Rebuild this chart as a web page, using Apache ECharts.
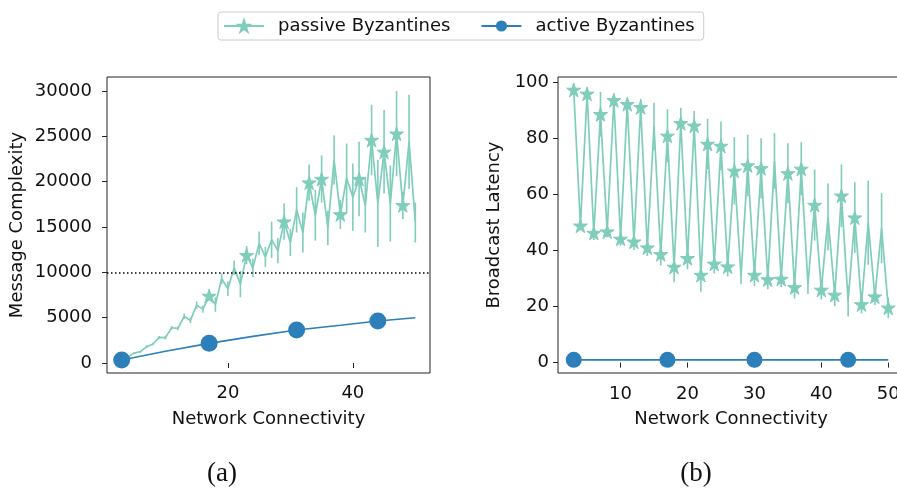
<!DOCTYPE html>
<html>
<head>
<meta charset="utf-8">
<script src="https://cdn.jsdelivr.net/npm/echarts@6/dist/echarts.min.js"></script>
<style>html,body{margin:0;padding:0;background:#fff;overflow:hidden;}#c{width:912px;height:490px;}</style>
</head>
<body>
<div id="c"></div>
<script>
// ---------- data ----------
const connectivity = [3,4,5,6,7,8,9,10,11,12,13,14,15,16,17,18,19,20,21,22,23,24,25,26,27,28,29,30,31,32,33,34,35,36,37,38,39,40,41,42,43,44,45,46,47,48,49,50];

// (a) Message complexity, passive Byzantines (mean and error)
const passiveMsg = [330,700,1100,1250,1800,2100,2830,2800,3890,3830,5150,4700,6390,5950,7400,6450,9300,8200,10500,8700,11900,10500,13200,11700,13600,12400,15600,13300,16900,14400,19900,16300,20300,14900,22400,16400,20400,18300,20300,17400,24600,17600,23300,17600,25300,17400,24400,15500];
const passiveMsgErr = [50,100,100,100,150,150,150,200,200,200,300,300,400,400,500,800,600,800,800,1450,1000,1000,1300,1100,2000,1400,2000,1500,2500,2200,2000,2800,2600,1900,2700,1600,3800,3700,4100,3000,3900,4800,4600,4200,4700,1500,5200,2200];
const passiveMsgMarkers = [3,17,23,29,33,35,38,41,43,45,47,48];

// (a) Message complexity, active Byzantines
const activeMsgX = [3,10,17,24,31,38,44,50];
const activeMsg = [330,1300,2170,2940,3640,4160,4630,5000];
const activeMsgMarkers = [3,17,31,44];

const msgThreshold = 10000;

// (b) Broadcast latency, passive Byzantines (mean and error)
const passiveLat = [97.4,48.9,96.0,46.3,88.7,46.8,93.7,44.2,92.3,43.2,91.2,41.1,84.3,38.7,81.0,34.2,85.5,37.3,84.6,31.3,78.1,35.3,77.4,34.3,68.5,31.0,70.4,31.3,69.4,29.7,72.0,29.9,67.6,26.9,69.2,28.0,56.3,26.0,52.0,24.2,59.6,22.0,51.8,20.8,50.0,23.6,48.0,19.6];
const passiveLatErr = [1,1.5,1.5,2.5,8,2,1.5,2.5,2,3,3,3,8.5,4,9.5,5.5,5.5,4,5.3,6,9,3.5,8.7,3.5,12,3,11,4,10.7,3.5,10,3,10.7,4,9.5,3.5,12.7,3.5,12,4,11.2,5.5,12.6,3.2,15,3,12.5,3.7];
const passiveLatMarkers = [3,4,5,6,7,8,9,10,11,12,13,14,16,17,18,19,20,21,22,23,24,25,26,27,29,30,31,32,34,35,36,37,39,40,42,43,45,46,48,50];

// (b) Broadcast latency, active Byzantines
const activeLatX = [3,17,30,44,50];
const activeLat = [1,1,1,1,1];
const activeLatMarkers = [3,17,30,44];

// ticks
const msgYTicks = [0,5000,10000,15000,20000,25000,30000];
const msgXTicks = [20,40];
const latYTicks = [0,20,40,60,80,100];
const latXTicks = [10,20,30,40,50];

// ---------- styles ----------
const cPassive = '#7fcdbb';
const cActive = '#2c7fb8';
const star = 'path://M0,-1 L0.2245,-0.309 L0.951,-0.309 L0.363,0.118 L0.588,0.809 L0,0.382 L-0.588,0.809 L-0.363,0.118 L-0.951,-0.309 L-0.2245,-0.309 Z';
const font = 'DejaVu Sans';
const fs = 18;

function withMarkers(xs, ys, marks) {
  return xs.map((x, i) => {
    const item = { value: [x, ys[i]] };
    if (marks.indexOf(x) < 0) item.symbol = 'none';
    return item;
  });
}
function errData(xs, ys, es) {
  return xs.map((x, i) => [x, ys[i] - es[i], ys[i] + es[i]]);
}
function errRender(params, api) {
  const p1 = api.coord([api.value(0), api.value(1)]);
  const p2 = api.coord([api.value(0), api.value(2)]);
  return { type: 'line', shape: { x1: p1[0], y1: p1[1], x2: p2[0], y2: p2[1] },
           style: { stroke: cPassive, lineWidth: 1.6 } };
}
function xAxis(idx, ticks, margin) {
  return {
    type: 'value', gridIndex: idx, min: 0.65, max: 52.35,
    name: 'Network Connectivity', nameLocation: 'middle', nameGap: 37,
    nameTextStyle: { fontFamily: font, fontSize: fs, color: '#111' },
    axisLine: { show: false },
    axisTick: { show: true, length: 5, lineStyle: { color: '#222' }, customValues: ticks },
    axisLabel: { fontFamily: font, fontSize: fs, color: '#111', margin: margin, customValues: ticks, formatter: v => String(v) },
    splitLine: { show: false }
  };
}
function yAxis(idx, min, max, ticks, name, gap, margin) {
  return {
    type: 'value', gridIndex: idx, min: min, max: max,
    name: name, nameLocation: 'middle', nameGap: gap,
    nameTextStyle: { fontFamily: font, fontSize: fs, color: '#111' },
    axisLine: { show: false },
    axisTick: { show: true, length: 5, lineStyle: { color: '#222' }, customValues: ticks },
    axisLabel: { fontFamily: font, fontSize: fs, color: '#111', margin: margin, customValues: ticks, formatter: v => String(v) },
    splitLine: { show: false }
  };
}
const starStyle = { color: cPassive, borderColor: cPassive, borderWidth: 1 };

const chart = echarts.init(document.getElementById('c'), null, { renderer: 'canvas' });
chart.setOption({
  animation: false,
  backgroundColor: '#fff',
  legend: {
    left: 218, top: 12,
    data: ['passive Byzantines', 'active Byzantines'],
    itemWidth: 40, itemHeight: 14, itemGap: 30,
    padding: [5, 9, 5, 5],
    borderColor: '#cccccc', borderWidth: 1, borderRadius: 3,
    textStyle: { fontFamily: font, fontSize: fs, color: '#111', padding: [0, 0, 0, 9] }
  },
  grid: [
    { left: 107, top: 77, width: 323, height: 296, show: true, borderColor: '#222', borderWidth: 1, backgroundColor: 'transparent' },
    { left: 558, top: 77, width: 346, height: 296, show: true, borderColor: '#222', borderWidth: 1, backgroundColor: 'transparent' }
  ],
  xAxis: [xAxis(0, msgXTicks, 11), xAxis(1, latXTicks, 12)],
  yAxis: [
    yAxis(0, -1100, 31550, msgYTicks, 'Message Complexity', 81, 15),
    yAxis(1, -3.7, 102, latYTicks, 'Broadcast Latency', 55, 9)
  ],
  graphic: [
    { type: 'text', style: { text: '(a)', x: 222, y: 474, textAlign: 'center', textVerticalAlign: 'middle', font: '27px "Liberation Serif"', fill: '#111' } },
    { type: 'text', style: { text: '(b)', x: 696, y: 474, textAlign: 'center', textVerticalAlign: 'middle', font: '27px "Liberation Serif"', fill: '#111' } }
  ],
  series: [
    { type: 'custom', name: 'errA', xAxisIndex: 0, yAxisIndex: 0, renderItem: errRender,
      encode: { x: 0, y: [1, 2] }, data: errData(connectivity, passiveMsg, passiveMsgErr), z: 2 },
    { type: 'line', name: 'passive Byzantines', xAxisIndex: 0, yAxisIndex: 0,
      data: withMarkers(connectivity, passiveMsg, passiveMsgMarkers),
      symbol: star, symbolSize: 14, showAllSymbol: true,
      lineStyle: { color: cPassive, width: 1.7 }, itemStyle: starStyle, z: 3,
      markLine: { silent: true, symbol: 'none', label: { show: false },
        lineStyle: { color: '#000', type: [1.5, 2.5], width: 1.5 },
        data: [{ yAxis: msgThreshold }] } },
    { type: 'line', name: 'active Byzantines', xAxisIndex: 0, yAxisIndex: 0,
      data: withMarkers(activeMsgX, activeMsg, activeMsgMarkers),
      symbol: 'circle', symbolSize: 17, showAllSymbol: true,
      lineStyle: { color: cActive, width: 1.6 }, itemStyle: { color: cActive }, z: 4 },
    { type: 'custom', name: 'errB', xAxisIndex: 1, yAxisIndex: 1, renderItem: errRender,
      encode: { x: 0, y: [1, 2] }, data: errData(connectivity, passiveLat, passiveLatErr), z: 2 },
    { type: 'line', name: 'passive Byzantines', xAxisIndex: 1, yAxisIndex: 1,
      data: withMarkers(connectivity, passiveLat, passiveLatMarkers),
      symbol: star, symbolSize: 14, showAllSymbol: true,
      lineStyle: { color: cPassive, width: 1.7 }, itemStyle: starStyle, z: 3 },
    { type: 'line', name: 'active Byzantines', xAxisIndex: 1, yAxisIndex: 1,
      data: withMarkers(activeLatX, activeLat, activeLatMarkers),
      symbol: 'circle', symbolSize: 16, showAllSymbol: true,
      lineStyle: { color: cActive, width: 1.6 }, itemStyle: { color: cActive }, z: 4 }
  ]
});
</script>
</body>
</html>
